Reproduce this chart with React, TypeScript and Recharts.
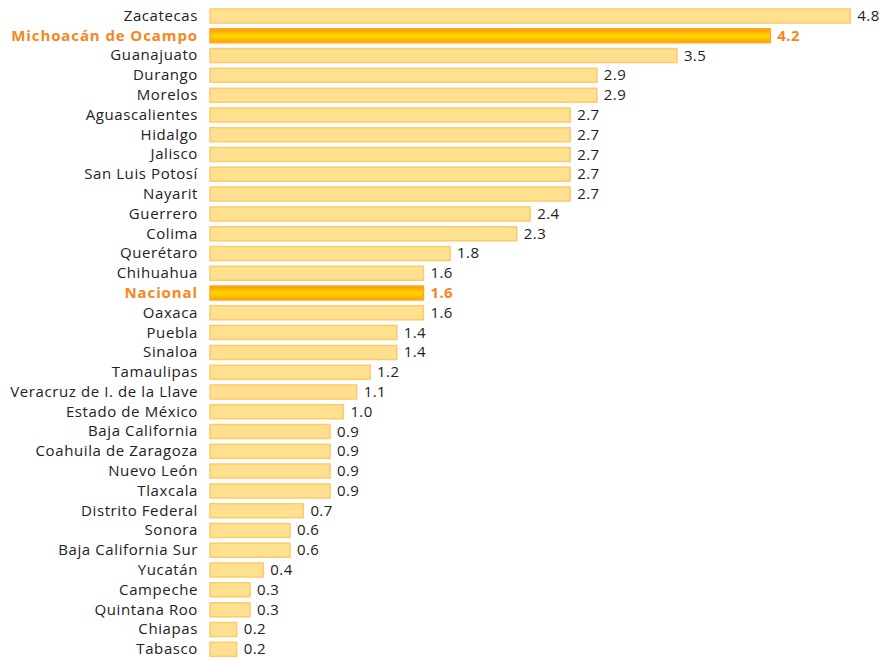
import { BarChart, Bar, XAxis, YAxis, Cell, LabelList } from 'recharts';

const states = [
  'Zacatecas', 'Michoacán de Ocampo', 'Guanajuato', 'Durango', 'Morelos', 'Aguascalientes',
  'Hidalgo', 'Jalisco', 'San Luis Potosí', 'Nayarit', 'Guerrero', 'Colima', 'Querétaro',
  'Chihuahua', 'Nacional', 'Oaxaca', 'Puebla', 'Sinaloa', 'Tamaulipas',
  'Veracruz de I. de la Llave', 'Estado de México', 'Baja California', 'Coahuila de Zaragoza',
  'Nuevo León', 'Tlaxcala', 'Distrito Federal', 'Sonora', 'Baja California Sur', 'Yucatán',
  'Campeche', 'Quintana Roo', 'Chiapas', 'Tabasco',
];
const values = [
  4.8, 4.2, 3.5, 2.9, 2.9, 2.7, 2.7, 2.7, 2.7, 2.7, 2.4, 2.3, 1.8, 1.6, 1.6, 1.6, 1.4, 1.4,
  1.2, 1.1, 1.0, 0.9, 0.9, 0.9, 0.9, 0.7, 0.6, 0.6, 0.4, 0.3, 0.3, 0.2, 0.2,
];
const highlighted = ['Michoacán de Ocampo', 'Nacional'];

const data = states.map((name, i) => ({ name, value: values[i], hi: highlighted.includes(name) }));

const FONT = '"Open Sans", sans-serif';
const ORANGE = '#F7861E';

function StateTick(props: any) {
  const { x, y, payload } = props;
  const hi = highlighted.includes(payload.value);
  return (
    <text x={x} y={y} dy={5} textAnchor="end" fontFamily={FONT} fontSize={15}
      letterSpacing={hi ? 0.9 : 0.6}
      fill={hi ? ORANGE : '#222'} fontWeight={hi ? 700 : 400}>
      {payload.value}
    </text>
  );
}

function ValueLabel(props: any) {
  const { x, y, width, height, value, index } = props;
  const hi = data[index]?.hi;
  return (
    <text x={x + width + 7} y={y + height / 2} dy={5} fontFamily={FONT} fontSize={15}
      letterSpacing={0.4}
      fill={hi ? ORANGE : '#222'} fontWeight={hi ? 700 : 400}>
      {Number(value).toFixed(1)}
    </text>
  );
}

export default function App() {
  return (
    <div style={{ position: 'absolute', left: 0, top: 0, background: '#fff' }}>
      <BarChart width={882} height={661} data={data} layout="vertical"
        margin={{ top: 6, right: 5, bottom: 2, left: 0 }}>
        <defs>
          <linearGradient id="hiGrad" x1="0" y1="0" x2="0" y2="1">
            <stop offset="0%" stopColor="#FF9400" />
            <stop offset="50%" stopColor="#FFD800" />
            <stop offset="100%" stopColor="#FFA000" />
          </linearGradient>
        </defs>
        <XAxis type="number" domain={[0, 5]} hide />
        <YAxis type="category" dataKey="name" width={210} axisLine={false} tickLine={false}
          tick={<StateTick />} tickMargin={6} interval={0} />
        <Bar dataKey="value" barSize={14} isAnimationActive={false}>
          {data.map((d) => (
            <Cell key={d.name} fill={d.hi ? 'url(#hiGrad)' : '#FFE08E'}
              stroke={d.hi ? '#FFA726' : '#FFC96E'} strokeWidth={1.5} />
          ))}
          <LabelList dataKey="value" content={<ValueLabel />} />
        </Bar>
      </BarChart>
    </div>
  );
}
